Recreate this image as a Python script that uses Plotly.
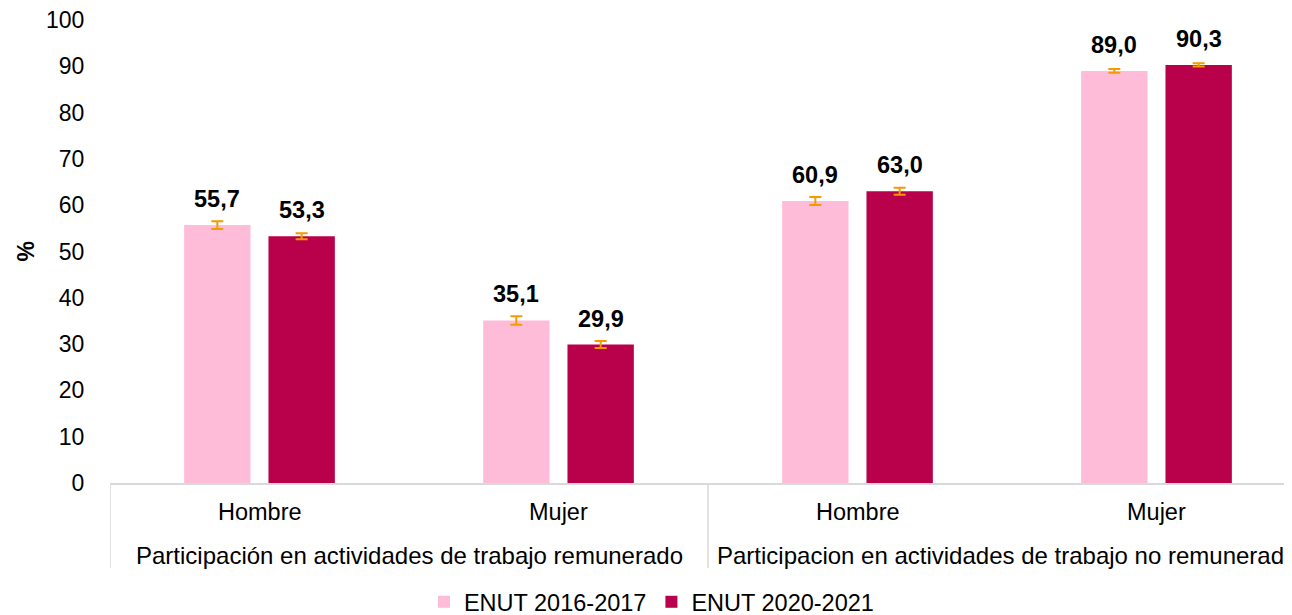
import plotly.graph_objects as go

categories = ["Hombre", "Mujer", "Hombre", "Mujer"]
groups = ["Participación en actividades de trabajo remunerado",
          "Participacion en actividades de trabajo no remunerado"]
series_names = ["ENUT 2016-2017", "ENUT 2020-2021"]
values_2016 = [55.7, 35.1, 60.9, 89.0]
values_2020 = [53.3, 29.9, 63.0, 90.3]
err_2016 = [0.85, 0.9, 0.85, 0.4]
err_2020 = [0.65, 0.75, 0.75, 0.35]
labels_2016 = ["55,7", "35,1", "60,9", "89,0"]
labels_2020 = ["53,3", "29,9", "63,0", "90,3"]
y_ticks = [0, 10, 20, 30, 40, 50, 60, 70, 80, 90, 100]

FONT = "Arial, Liberation Sans, sans-serif"
PINK = "#FFBCD9"
DARK = "#B9004A"
ORANGE = "#F59B00"
GRID = "#D9D9D9"

xpos = list(range(len(categories)))
OFF = 0.141
W = 0.222

fig = go.Figure()
for name, vals, errs, col, off in [
    (series_names[0], values_2016, err_2016, PINK, -OFF),
    (series_names[1], values_2020, err_2020, DARK, OFF),
]:
    fig.add_trace(go.Bar(
        x=xpos, y=vals, name=name,
        offset=off - W / 2, width=W,
        marker=dict(color=col, line=dict(width=0)),
        error_y=dict(type="data", array=errs, visible=True,
                     color=ORANGE, thickness=2, width=6),
        hoverinfo="y",
    ))

annotations = []
for vals, labs, off in [(values_2016, labels_2016, -OFF), (values_2020, labels_2020, OFF)]:
    for i, (v, t) in enumerate(zip(vals, labs)):
        annotations.append(dict(
            x=i + off, y=v, xref="x", yref="y", text=t, showarrow=False,
            yanchor="bottom", yshift=11,
            font=dict(family=FONT, size=23.5, color="black", weight="bold"),
        ))

# category labels
for i, c in enumerate(categories):
    annotations.append(dict(
        x=i, y=0, xref="x", yref="paper", text=c, showarrow=False,
        yanchor="middle", yshift=-29,
        font=dict(family=FONT, size=23.5, color="black"),
    ))
# group labels
for g, gname in enumerate(groups):
    annotations.append(dict(
        x=2 * g + 0.5, y=0, xref="x", yref="paper", text=gname, showarrow=False,
        yanchor="middle", yshift=-72,
        font=dict(family=FONT, size=24, color="black"),
    ))
# y title
annotations.append(dict(
    x=0, y=0.5, xref="paper", yref="paper", text="<b>%</b>", showarrow=False,
    xanchor="center", xshift=-85, textangle=-90,
    font=dict(family=FONT, size=23, color="black"),
))

W_FIG, H_FIG = 1292, 615
M_L, M_R, M_T, M_B = 102, 0, 12, 140
plot_h = H_FIG - M_T - M_B
plot_w = W_FIG - M_L - M_R
PITCH = 299.0
shapes = []
for sx in [-0.5, 1.5, 3.5]:
    shapes.append(dict(type="line", xref="x", yref="paper",
                       x0=sx, x1=sx, y0=0, y1=-85 / plot_h,
                       line=dict(color=GRID, width=1.5)))

fig.update_layout(
    width=W_FIG, height=H_FIG,
    margin=dict(l=M_L, r=M_R, t=M_T, b=M_B, autoexpand=False),
    paper_bgcolor="white", plot_bgcolor="white",
    barmode="overlay",
    showlegend=True,
    legend=dict(orientation="h", x=0.455, xanchor="center",
                y=-97 / plot_h, yanchor="top",
                font=dict(family=FONT, size=23.5, color="black"),
                itemwidth=30, traceorder="normal"),
    xaxis=dict(range=[-0.5, -0.5 + plot_w / PITCH], showticklabels=False, showgrid=False,
               zeroline=False, showline=True, linecolor=GRID, linewidth=1.5,
               ticks="", fixedrange=True),
    yaxis=dict(range=[0, 100], tickvals=y_ticks, showgrid=False, zeroline=False,
               showline=False, ticks="outside", ticklen=20, tickcolor="rgba(0,0,0,0)",
               ticklabeloverflow="allow",
               tickfont=dict(family=FONT, size=23, color="black")),
    annotations=annotations,
    shapes=shapes,
    font=dict(family=FONT),
)

fig.write_html("out.html")
